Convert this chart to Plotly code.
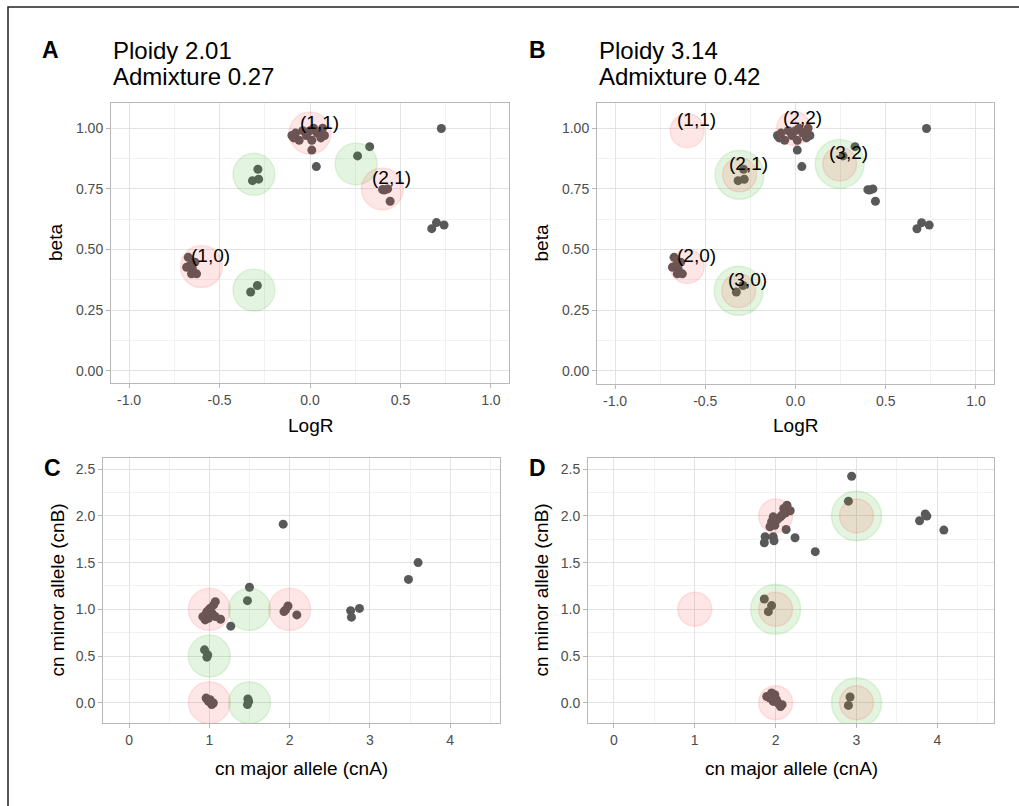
import plotly.graph_objects as go

W, H = 1019, 806
FONT = "Liberation Sans"

# ---- observed segments: LogR / beta (shared by panels A and B) ----
logr = [-0.10, -0.08, -0.06, -0.04, -0.02, 0.01, 0.02, 0.04, 0.07, 0.08, 0.06, 0.01, -0.09, 0.00,
        0.035, 0.33, 0.263, 0.726,
        -0.288, -0.318, -0.284,
        0.401, 0.429, 0.443, 0.41,
        0.673, 0.699, 0.741,
        -0.673, -0.664, -0.636, -0.655, -0.627, -0.682, -0.65,
        -0.328, -0.291]
beta = [0.97, 0.98, 0.95, 0.99, 0.97, 0.95, 1.00, 0.98, 1.00, 0.97, 0.96, 0.91, 0.96, 0.99,
        0.842, 0.924, 0.886, 0.999,
        0.831, 0.784, 0.79,
        0.747, 0.75, 0.699, 0.745,
        0.586, 0.611, 0.601,
        0.468, 0.434, 0.448, 0.40, 0.40, 0.427, 0.42,
        0.325, 0.352]

# ---- copy-number estimates, ploidy 2.01 fit (panel C) ----
cna_c = [1.92, 3.60, 3.48, 1.50, 1.475, 1.267,
         1.075, 1.054, 1.0125, 0.971, 1.033, 0.95, 0.99, 1.075, 1.14, 0.92, 1.00, 0.96,
         1.95, 1.98, 1.93, 2.09,
         2.76, 2.77, 2.87,
         0.94, 0.98, 0.97,
         0.96, 0.99, 1.03, 1.05, 1.01,
         1.48, 1.475, 1.49]
cnb_c = [1.912, 1.50, 1.32, 1.236, 1.093, 0.82,
         1.082, 1.047, 1.012, 0.976, 0.958, 0.887, 0.905, 0.922, 0.894, 0.92, 1.00, 0.95,
         0.994, 1.036, 0.976, 0.94,
         0.986, 0.916, 1.01,
         0.566, 0.513, 0.488,
         0.05, 0.014, -0.02, -0.003, 0.032,
         0.04, -0.02, 0.014]

# ---- copy-number estimates, ploidy 3.14 fit (panel D) ----
cna_d = [2.94, 2.90, 3.85, 3.78, 3.87, 4.08,
         2.14, 2.18, 2.10, 2.06, 2.01, 1.95, 1.93, 1.99, 2.03, 1.97, 2.12, 2.08,
         2.13, 2.24, 1.87, 1.86, 1.97, 1.98, 2.49,
         1.86, 1.95, 1.91,
         1.89, 1.95, 1.99, 1.97, 2.03, 2.08, 2.06, 2.01, 1.93,
         2.92, 2.90]
cnb_d = [2.425, 2.158, 2.02, 1.948, 1.998, 1.848,
         2.115, 2.055, 2.08, 1.99, 1.955, 1.937, 1.884, 1.90, 1.97, 1.99, 2.03, 2.01,
         1.855, 1.766, 1.777, 1.713, 1.777, 1.734, 1.617,
         1.111, 1.04, 0.975,
         0.067, 0.104, 0.085, 0.014, -0.003, -0.021, -0.04, 0.032, 0.05,
         0.061, -0.029]

# ---- expected states: clonal (red) and subclonal (green) ----
a_red_logr = [0.00, 0.40, -0.60]
a_red_beta = [0.98, 0.75, 0.43]
a_red_lab = ["(1,1)", "(2,1)", "(1,0)"]
a_green_logr = [-0.31, 0.255, -0.31]
a_green_beta = [0.81, 0.853, 0.333]

b_red_logr = [-0.60, -0.01, -0.31, 0.245, -0.315, -0.60]
b_red_beta = [0.99, 1.00, 0.808, 0.853, 0.33, 0.43]
b_red_lab = ["(1,1)", "(2,2)", "(2,1)", "(3,2)", "(3,0)", "(2,0)"]
b_green_logr = [-0.31, 0.245, -0.315]
b_green_beta = [0.808, 0.853, 0.33]

c_red_a = [1, 2, 1]
c_red_b = [1, 1, 0]
c_green_a = [1.5, 1, 1.5]
c_green_b = [1, 0.5, 0]

d_red_a = [1, 2, 2, 3, 3, 2]
d_red_b = [1, 2, 1, 2, 0, 0]
d_green_a = [2, 3, 3]
d_green_b = [1, 2, 0]

titles = {"A": ["Ploidy 2.01", "Admixture 0.27"], "B": ["Ploidy 3.14", "Admixture 0.42"]}

RED = "rgba(255,50,50,0.12)"
GREEN = "rgba(70,190,50,0.15)"
PT = "#595959"


def px_x(p):
    return p / W


def px_y(p):
    return 1 - p / H


# plot-area boxes in pixels: (left, right, top, bottom)
boxes = {
    "A": (111, 509, 103, 383),
    "B": (597, 994, 103, 384),
    "C": (103, 500, 458, 723),
    "D": (588, 994, 458, 723),
}
axis_ids = {"A": ("x", "y"), "B": ("x2", "y2"), "C": ("x3", "y3"), "D": ("x4", "y4")}

fig = go.Figure()


def add_points(panel, xs, ys):
    xa, ya = axis_ids[panel]
    fig.add_trace(go.Scatter(x=xs, y=ys, mode="markers", xaxis=xa, yaxis=ya,
                             marker=dict(color=PT, size=9, line=dict(width=0)),
                             showlegend=False, hoverinfo="skip"))


def add_circles(panel, xs, ys, color, size):
    xa, ya = axis_ids[panel]
    fig.add_trace(go.Scatter(x=xs, y=ys, mode="markers", xaxis=xa, yaxis=ya,
                             marker=dict(color=color, size=size, line=dict(color=color, width=1.5)),
                             showlegend=False, hoverinfo="skip"))


add_points("A", logr, beta)
add_circles("A", a_red_logr, a_red_beta, RED, 42)
add_circles("A", a_green_logr, a_green_beta, GREEN, 42)

add_points("B", logr, beta)
add_circles("B", b_green_logr, b_green_beta, GREEN, 49)
add_circles("B", b_red_logr, b_red_beta, RED, 34)

add_points("C", cna_c, cnb_c)
add_circles("C", c_red_a, c_red_b, RED, 42)
add_circles("C", c_green_a, c_green_b, GREEN, 42)

add_points("D", cna_d, cnb_d)
add_circles("D", d_green_a, d_green_b, GREEN, 50)
add_circles("D", d_red_a, d_red_b, RED, 34)

annotations = []
for panel, xs, ys, labs in (("A", a_red_logr, a_red_beta, a_red_lab),
                            ("B", b_red_logr, b_red_beta, b_red_lab)):
    xa, ya = axis_ids[panel]
    for x, y, t in zip(xs, ys, labs):
        annotations.append(dict(x=x, y=y, xref=xa, yref=ya, text=t, showarrow=False,
                                xshift=9, yshift=11, font=dict(family=FONT, size=19, color="black")))

GRID = "#e3e3e3"
MINOR = "#f1f1f1"
BORDER = "#b8b8b8"


def fmt(v, nd):
    return f"{v:.{nd}f}"


def axis(box_lo, box_hi, rng, vals, nd, minor_dt, horiz, anchor):
    lo, hi = box_lo, box_hi
    dom = [px_x(lo), px_x(hi)] if horiz else [px_y(hi), px_y(lo)]
    return dict(domain=dom, range=rng, anchor=anchor,
                tickvals=vals, ticktext=[fmt(v, nd) for v in vals],
                showgrid=True, gridcolor=GRID, gridwidth=1,
                minor=dict(dtick=minor_dt, tick0=0, showgrid=True, gridcolor=MINOR, gridwidth=0.6),
                zeroline=False, showline=True, linecolor=BORDER, linewidth=1, mirror=True,
                ticks="outside", ticklen=4, tickcolor=BORDER, tickwidth=1,
                tickfont=dict(family=FONT, size=14, color="#4d4d4d"))


logr_ticks = [-1.0, -0.5, 0.0, 0.5, 1.0]
beta_ticks = [0.0, 0.25, 0.5, 0.75, 1.0]
cna_ticks = [0, 1, 2, 3, 4]
cnb_ticks = [0.0, 0.5, 1.0, 1.5, 2.0, 2.5]

layout_axes = {}
l, r, t, b = boxes["A"]
layout_axes["xaxis"] = axis(l, r, [-1.1, 1.1], logr_ticks, 1, 0.25, True, "y")
layout_axes["yaxis"] = axis(t, b, [-0.05, 1.104], beta_ticks, 2, 0.125, False, "x")
l, r, t, b = boxes["B"]
layout_axes["xaxis2"] = axis(l, r, [-1.1, 1.1], logr_ticks, 1, 0.25, True, "y2")
layout_axes["yaxis2"] = axis(t, b, [-0.054, 1.104], beta_ticks, 2, 0.125, False, "x2")
l, r, t, b = boxes["C"]
layout_axes["xaxis3"] = axis(l, r, [-0.324, 4.62], cna_ticks, 0, 0.5, True, "y3")
layout_axes["yaxis3"] = axis(t, b, [-0.217, 2.62], cnb_ticks, 1, 0.25, False, "x3")
l, r, t, b = boxes["D"]
layout_axes["xaxis4"] = axis(l, r, [-0.32, 4.70], cna_ticks, 0, 0.5, True, "y4")
layout_axes["yaxis4"] = axis(t, b, [-0.217, 2.62], cnb_ticks, 1, 0.25, False, "x4")


def paper_text(text, x, y, size, bold=False, xanchor="center", angle=0):
    annotations.append(dict(x=px_x(x), y=px_y(y), xref="paper", yref="paper", text=f"<b>{text}</b>" if bold else text,
                            showarrow=False, xanchor=xanchor, yanchor="middle", textangle=angle,
                            font=dict(family=FONT, size=size, color="black")))


# panel letters and titles
paper_text("A", 50, 50, 23, bold=True)
paper_text("B", 537, 50, 23, bold=True)
paper_text("C", 52, 468, 23, bold=True)
paper_text("D", 537, 468, 23, bold=True)
for panel, (l, r, t, b) in (("A", boxes["A"]), ("B", boxes["B"])):
    paper_text(titles[panel][0], l, 51, 24, xanchor="left")
    paper_text(titles[panel][1], l, 77, 24, xanchor="left")

# axis titles
paper_text("LogR", (boxes["A"][0] + boxes["A"][1]) / 2, 425, 19)
paper_text("LogR", (boxes["B"][0] + boxes["B"][1]) / 2, 425, 19)
paper_text("beta", 55, (boxes["A"][2] + boxes["A"][3]) / 2, 19, angle=-90)
paper_text("beta", 541, (boxes["B"][2] + boxes["B"][3]) / 2, 19, angle=-90)
paper_text("cn major allele (cnA)", (boxes["C"][0] + boxes["C"][1]) / 2, 768, 19)
paper_text("cn major allele (cnA)", (boxes["D"][0] + boxes["D"][1]) / 2, 768, 19)
paper_text("cn minor allele (cnB)", 57, (boxes["C"][2] + boxes["C"][3]) / 2, 19, angle=-90)
paper_text("cn minor allele (cnB)", 541, (boxes["D"][2] + boxes["D"][3]) / 2, 19, angle=-90)

fig.update_layout(
    width=W, height=H,
    margin=dict(l=0, r=0, t=0, b=0),
    paper_bgcolor="white", plot_bgcolor="white",
    showlegend=False,
    annotations=annotations,
    shapes=[dict(type="rect", xref="paper", yref="paper",
                 x0=px_x(8), x1=1.2, y0=-0.2, y1=px_y(7),
                 line=dict(color="#222222", width=1.5), fillcolor="rgba(0,0,0,0)", layer="above")],
    **layout_axes,
)

fig.write_html("out.html")
